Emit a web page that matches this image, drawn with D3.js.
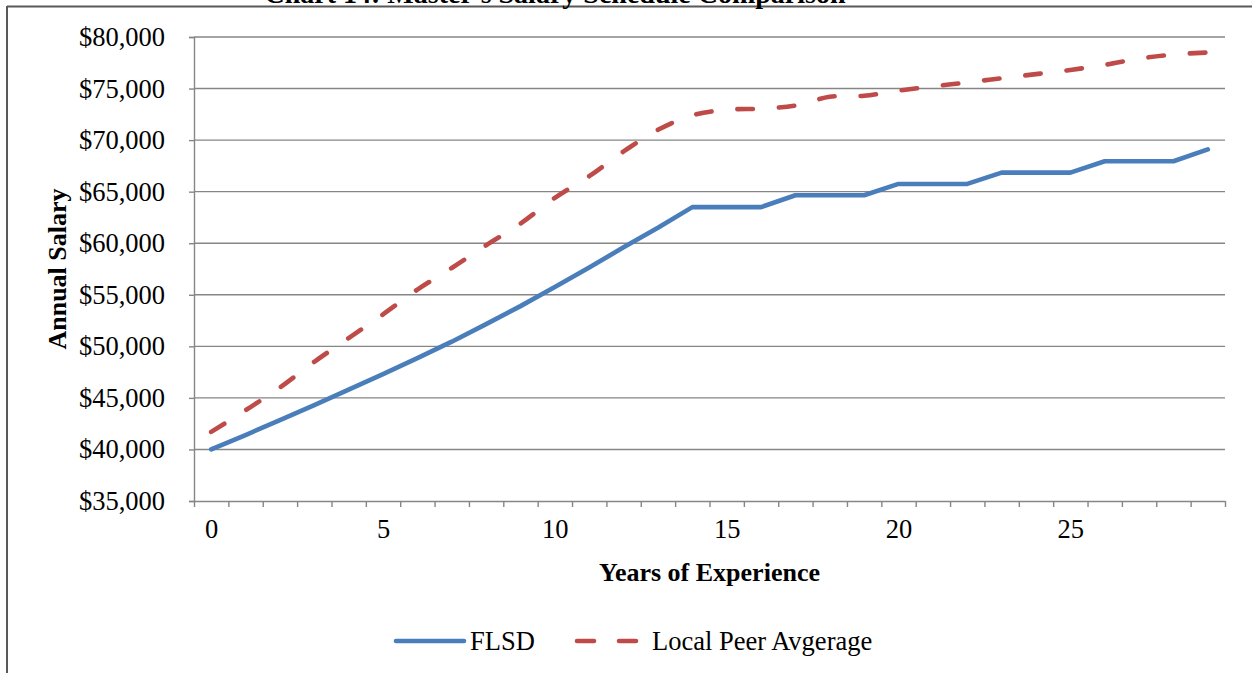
<!DOCTYPE html>
<html>
<head>
<meta charset="utf-8">
<script src="https://cdn.jsdelivr.net/npm/d3@7"></script>
<style>
  body { margin: 0; background: #fff; }
  text { font-family: "Liberation Serif", "Times New Roman", serif; fill: #000; }
</style>
</head>
<body>
<script>
// values
var years = [0, 1, 2, 3, 4, 5, 6, 7, 8, 9, 10, 11, 12, 13, 14,
             15, 16, 17, 18, 19, 20, 21, 22, 23, 24, 25, 26, 27, 28, 29];
var flsd = [40000, 41400, 42850, 44300, 45800, 47300, 48850, 50450, 52150, 53900,
            55750, 57650, 59600, 61500, 63500, 63500, 63500, 64650, 64650, 64650,
            65750, 65750, 65750, 66850, 66850, 66850, 67950, 67950, 67950, 69100];
var peer = [41700, 43800, 46000, 48500, 50800, 53100, 55500, 57600, 59800, 61900,
            64400, 66500, 68900, 71000, 72400, 72950, 73050, 73350, 74200, 74300,
            74800, 75200, 75600, 76000, 76400, 76800, 77300, 77900, 78300, 78500];
var yTicks = [35000, 40000, 45000, 50000, 55000, 60000, 65000, 70000, 75000, 80000];
var xLabels = [0, 5, 10, 15, 20, 25];
var seriesNames = ["FLSD", "Local Peer Avgerage"];

var width = 1252, height = 673;
var margin = {left: 194, right: 1225, top: 37, bottom: 501};

var blue = "#4a7ebb", red = "#be4b48", grid = "#868686";

var svg = d3.select("body")
  .append("svg")
  .attr("width", width)
  .attr("height", height);

// frame (only top and left edges are visible in the crop)
svg.append("line")
  .attr("x1", 7).attr("x2", width).attr("y1", 6.5).attr("y2", 6.5)
  .attr("stroke", "#595959").attr("stroke-width", 2);
svg.append("line")
  .attr("x1", 7).attr("x2", 7).attr("y1", 6).attr("y2", height)
  .attr("stroke", "#595959").attr("stroke-width", 2);

// title, mostly above the visible area
svg.append("text")
  .attr("x", 555)
  .attr("y", 3)
  .attr("text-anchor", "middle")
  .attr("font-size", "28px")
  .attr("font-weight", "bold")
  .text("Chart 14: Master's Salary Schedule Comparison");

var x = d3.scaleLinear()
  .domain([-0.5, years.length - 0.5])
  .range([margin.left, margin.right]);

var y = d3.scaleLinear()
  .domain([35000, 80000])
  .range([margin.bottom, margin.top]);

// gridlines
svg.append("g")
  .selectAll("line")
  .data(yTicks.slice(1))
  .enter()
  .append("line")
  .attr("x1", margin.left).attr("x2", margin.right)
  .attr("y1", function(d) { return y(d); })
  .attr("y2", function(d) { return y(d); })
  .attr("stroke", grid)
  .attr("stroke-width", 1.4);

// y axis
var yAxisCall = d3.axisLeft(y)
  .tickValues(yTicks)
  .tickSize(5)
  .tickPadding(24)
  .tickFormat(function(d) { return "$" + d3.format(",")(d); });

var yAxis = svg.append("g")
  .attr("class", "y axis")
  .attr("transform", "translate(" + margin.left + ",0)")
  .call(yAxisCall);
yAxis.select(".domain").attr("stroke", grid).attr("stroke-width", 1.4);
yAxis.selectAll(".tick line").attr("stroke", grid).attr("stroke-width", 1.4);
yAxis.selectAll("text")
  .attr("font-size", "26.5px")
  .attr("font-family", "Liberation Serif");

// x axis: ticks between categories, labels every 5 years
var bounds = years.map(function(d) { return d - 0.5; }).concat([years.length - 0.5]);
var xTickCall = d3.axisBottom(x)
  .tickValues(bounds)
  .tickSize(6)
  .tickSizeOuter(0)
  .tickFormat("");
var xAxis = svg.append("g")
  .attr("class", "x axis")
  .attr("transform", "translate(0," + margin.bottom + ")")
  .call(xTickCall);
xAxis.select(".domain").attr("stroke", grid).attr("stroke-width", 1.4);
xAxis.selectAll(".tick line").attr("stroke", grid).attr("stroke-width", 1.4);

var xLabelCall = d3.axisBottom(x)
  .tickValues(xLabels)
  .tickSize(0)
  .tickPadding(18);
var xLab = svg.append("g")
  .attr("transform", "translate(0," + margin.bottom + ")")
  .call(xLabelCall);
xLab.select(".domain").remove();
xLab.selectAll("text")
  .attr("font-size", "26.5px")
  .attr("font-family", "Liberation Serif");

// axis titles
svg.append("text")
  .attr("x", (margin.left + margin.right) / 2)
  .attr("y", 581)
  .attr("text-anchor", "middle")
  .attr("font-size", "26px")
  .attr("font-weight", "bold")
  .text("Years of Experience");

svg.append("text")
  .attr("transform", "translate(66," + (margin.top + margin.bottom) / 2 + ") rotate(-90)")
  .attr("text-anchor", "middle")
  .attr("font-size", "26px")
  .attr("font-weight", "bold")
  .text("Annual Salary");

// lines
var flsdLine = d3.line()
  .x(function(d, i) { return x(years[i]); })
  .y(function(d) { return y(d); });

var peerLine = d3.line()
  .curve(d3.curveCatmullRom)
  .x(function(d, i) { return x(years[i]); })
  .y(function(d) { return y(d); });

svg.append("path")
  .datum(peer)
  .attr("d", peerLine)
  .attr("fill", "none")
  .attr("stroke", red)
  .attr("stroke-width", 4.6)
  .attr("stroke-linecap", "round")
  .attr("stroke-dasharray", "15.5,26");

svg.append("path")
  .datum(flsd)
  .attr("d", flsdLine)
  .attr("fill", "none")
  .attr("stroke", blue)
  .attr("stroke-width", 4.6)
  .attr("stroke-linecap", "round")
  .attr("stroke-linejoin", "round");

// legend
var legend = svg.append("g");
legend.append("line")
  .attr("x1", 396).attr("x2", 464).attr("y1", 641).attr("y2", 641)
  .attr("stroke", blue).attr("stroke-width", 4.6).attr("stroke-linecap", "round");
legend.append("text")
  .attr("x", 470).attr("y", 650)
  .attr("font-size", "26.5px")
  .text(seriesNames[0]);
legend.append("line")
  .attr("x1", 577).attr("x2", 638).attr("y1", 641).attr("y2", 641)
  .attr("stroke", red).attr("stroke-width", 4.6).attr("stroke-linecap", "round")
  .attr("stroke-dasharray", "17,25");
legend.append("text")
  .attr("x", 652).attr("y", 650)
  .attr("font-size", "26.5px")
  .text(seriesNames[1]);
</script>
</body>
</html>
